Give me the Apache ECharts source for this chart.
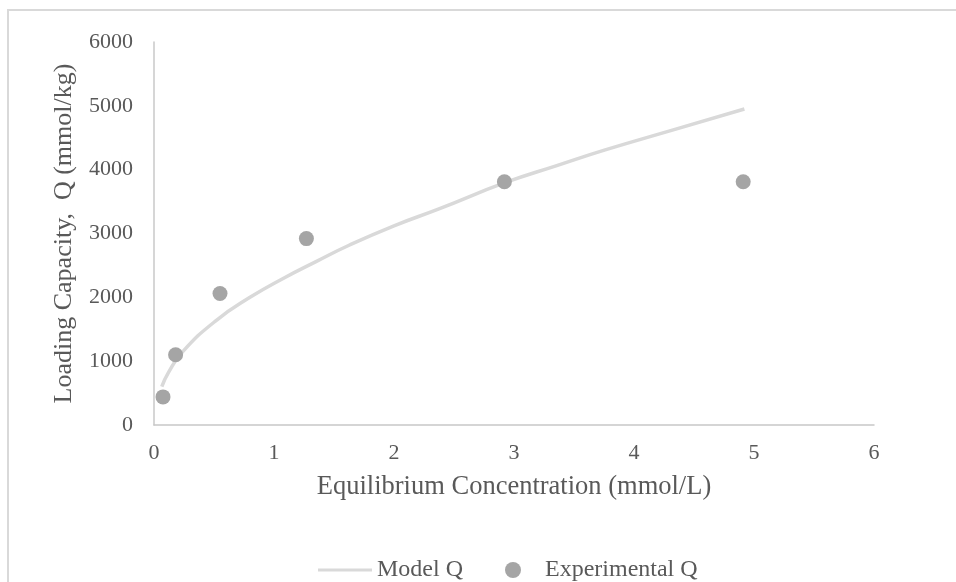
<!DOCTYPE html>
<html>
<head>
<meta charset="utf-8">
<title>Loading Capacity</title>
<script src="https://cdn.jsdelivr.net/npm/echarts@6/dist/echarts.min.js"></script>
<style>
  html, body { margin: 0; padding: 0; background: #fff; }
  #main { width: 956px; height: 582px; }
</style>
</head>
<body>
<div id="main"></div>
<script>
// experimental points
var expC = [0.075, 0.18, 0.55, 1.27, 2.92, 4.91];
var expQ = [440, 1100, 2060, 2920, 3810, 3810];

// model curve
var modelC = [0.065, 0.12, 0.24, 0.52, 0.8, 1.08, 1.35, 1.63, 2.0, 2.38, 2.93, 3.35, 3.76, 4.32, 4.92];
var modelQ = [600, 820, 1150, 1640, 2000, 2300, 2560, 2820, 3120, 3390, 3800, 4060, 4310, 4620, 4950];

var xTicks = [0, 1, 2, 3, 4, 5, 6];
var yTicks = [0, 1000, 2000, 3000, 4000, 5000, 6000];

var textColor = '#595959';
var font = '"Liberation Serif", "Times New Roman", serif';

function pairs(a, b) {
  var out = [];
  for (var i = 0; i < a.length; i++) out.push([a[i], b[i]]);
  return out;
}

var myChart = echarts.init(document.getElementById('main'));

var option = {
  backgroundColor: '#fff',
  animation: false,
  textStyle: { fontFamily: font, color: textColor },
  graphic: [{
    type: 'rect',
    shape: { x: 8, y: 10, width: 1200, height: 1200 },
    style: { fill: 'none', stroke: '#d9d9d9', lineWidth: 2 },
    silent: true
  }],
  grid: { left: 154, right: 82, top: 42, bottom: 157 },
  legend: {
    left: 313,
    top: 553,
    itemWidth: 54,
    itemHeight: 16,
    itemGap: 42,
    textStyle: { fontFamily: font, fontSize: 24, color: textColor },
    data: [
      { name: 'Model Q', icon: 'path://M0,7 L54,7 L54,10 L0,10 Z', itemStyle: { color: '#d9d9d9' } },
      { name: 'Experimental Q', icon: 'circle' }
    ]
  },
  xAxis: {
    type: 'value',
    min: xTicks[0],
    max: xTicks[xTicks.length - 1],
    interval: 1,
    name: 'Equilibrium Concentration (mmol/L)',
    nameLocation: 'middle',
    nameGap: 49,
    nameTextStyle: { fontFamily: font, fontSize: 26.5, color: textColor },
    axisLine: { show: true, lineStyle: { color: '#c8c8c8', width: 1.5 } },
    axisTick: { show: false },
    splitLine: { show: false },
    axisLabel: { fontFamily: font, fontSize: 22, color: textColor, margin: 17 }
  },
  yAxis: {
    type: 'value',
    min: yTicks[0],
    max: yTicks[yTicks.length - 1],
    interval: 1000,
    name: 'Loading Capacity,  Q (mmol/kg)',
    nameLocation: 'middle',
    nameGap: 77,
    nameTextStyle: { fontFamily: font, fontSize: 26, color: textColor },
    axisLine: { show: true, lineStyle: { color: '#c8c8c8', width: 1.5 } },
    axisTick: { show: false },
    splitLine: { show: false },
    axisLabel: {
      fontFamily: font, fontSize: 22, color: textColor, margin: 21,
      formatter: function (v) { return String(v); }
    }
  },
  series: [
    {
      name: 'Model Q',
      type: 'line',
      smooth: 0.5,
      showSymbol: false,
      data: pairs(modelC, modelQ),
      lineStyle: { color: '#d9d9d9', width: 3.5 },
      itemStyle: { color: '#d9d9d9' },
      z: 2
    },
    {
      name: 'Experimental Q',
      type: 'scatter',
      symbol: 'circle',
      symbolSize: 15,
      data: pairs(expC, expQ),
      itemStyle: { color: '#a5a5a5', opacity: 1 },
      z: 3
    }
  ]
};

myChart.setOption(option);
</script>
</body>
</html>
